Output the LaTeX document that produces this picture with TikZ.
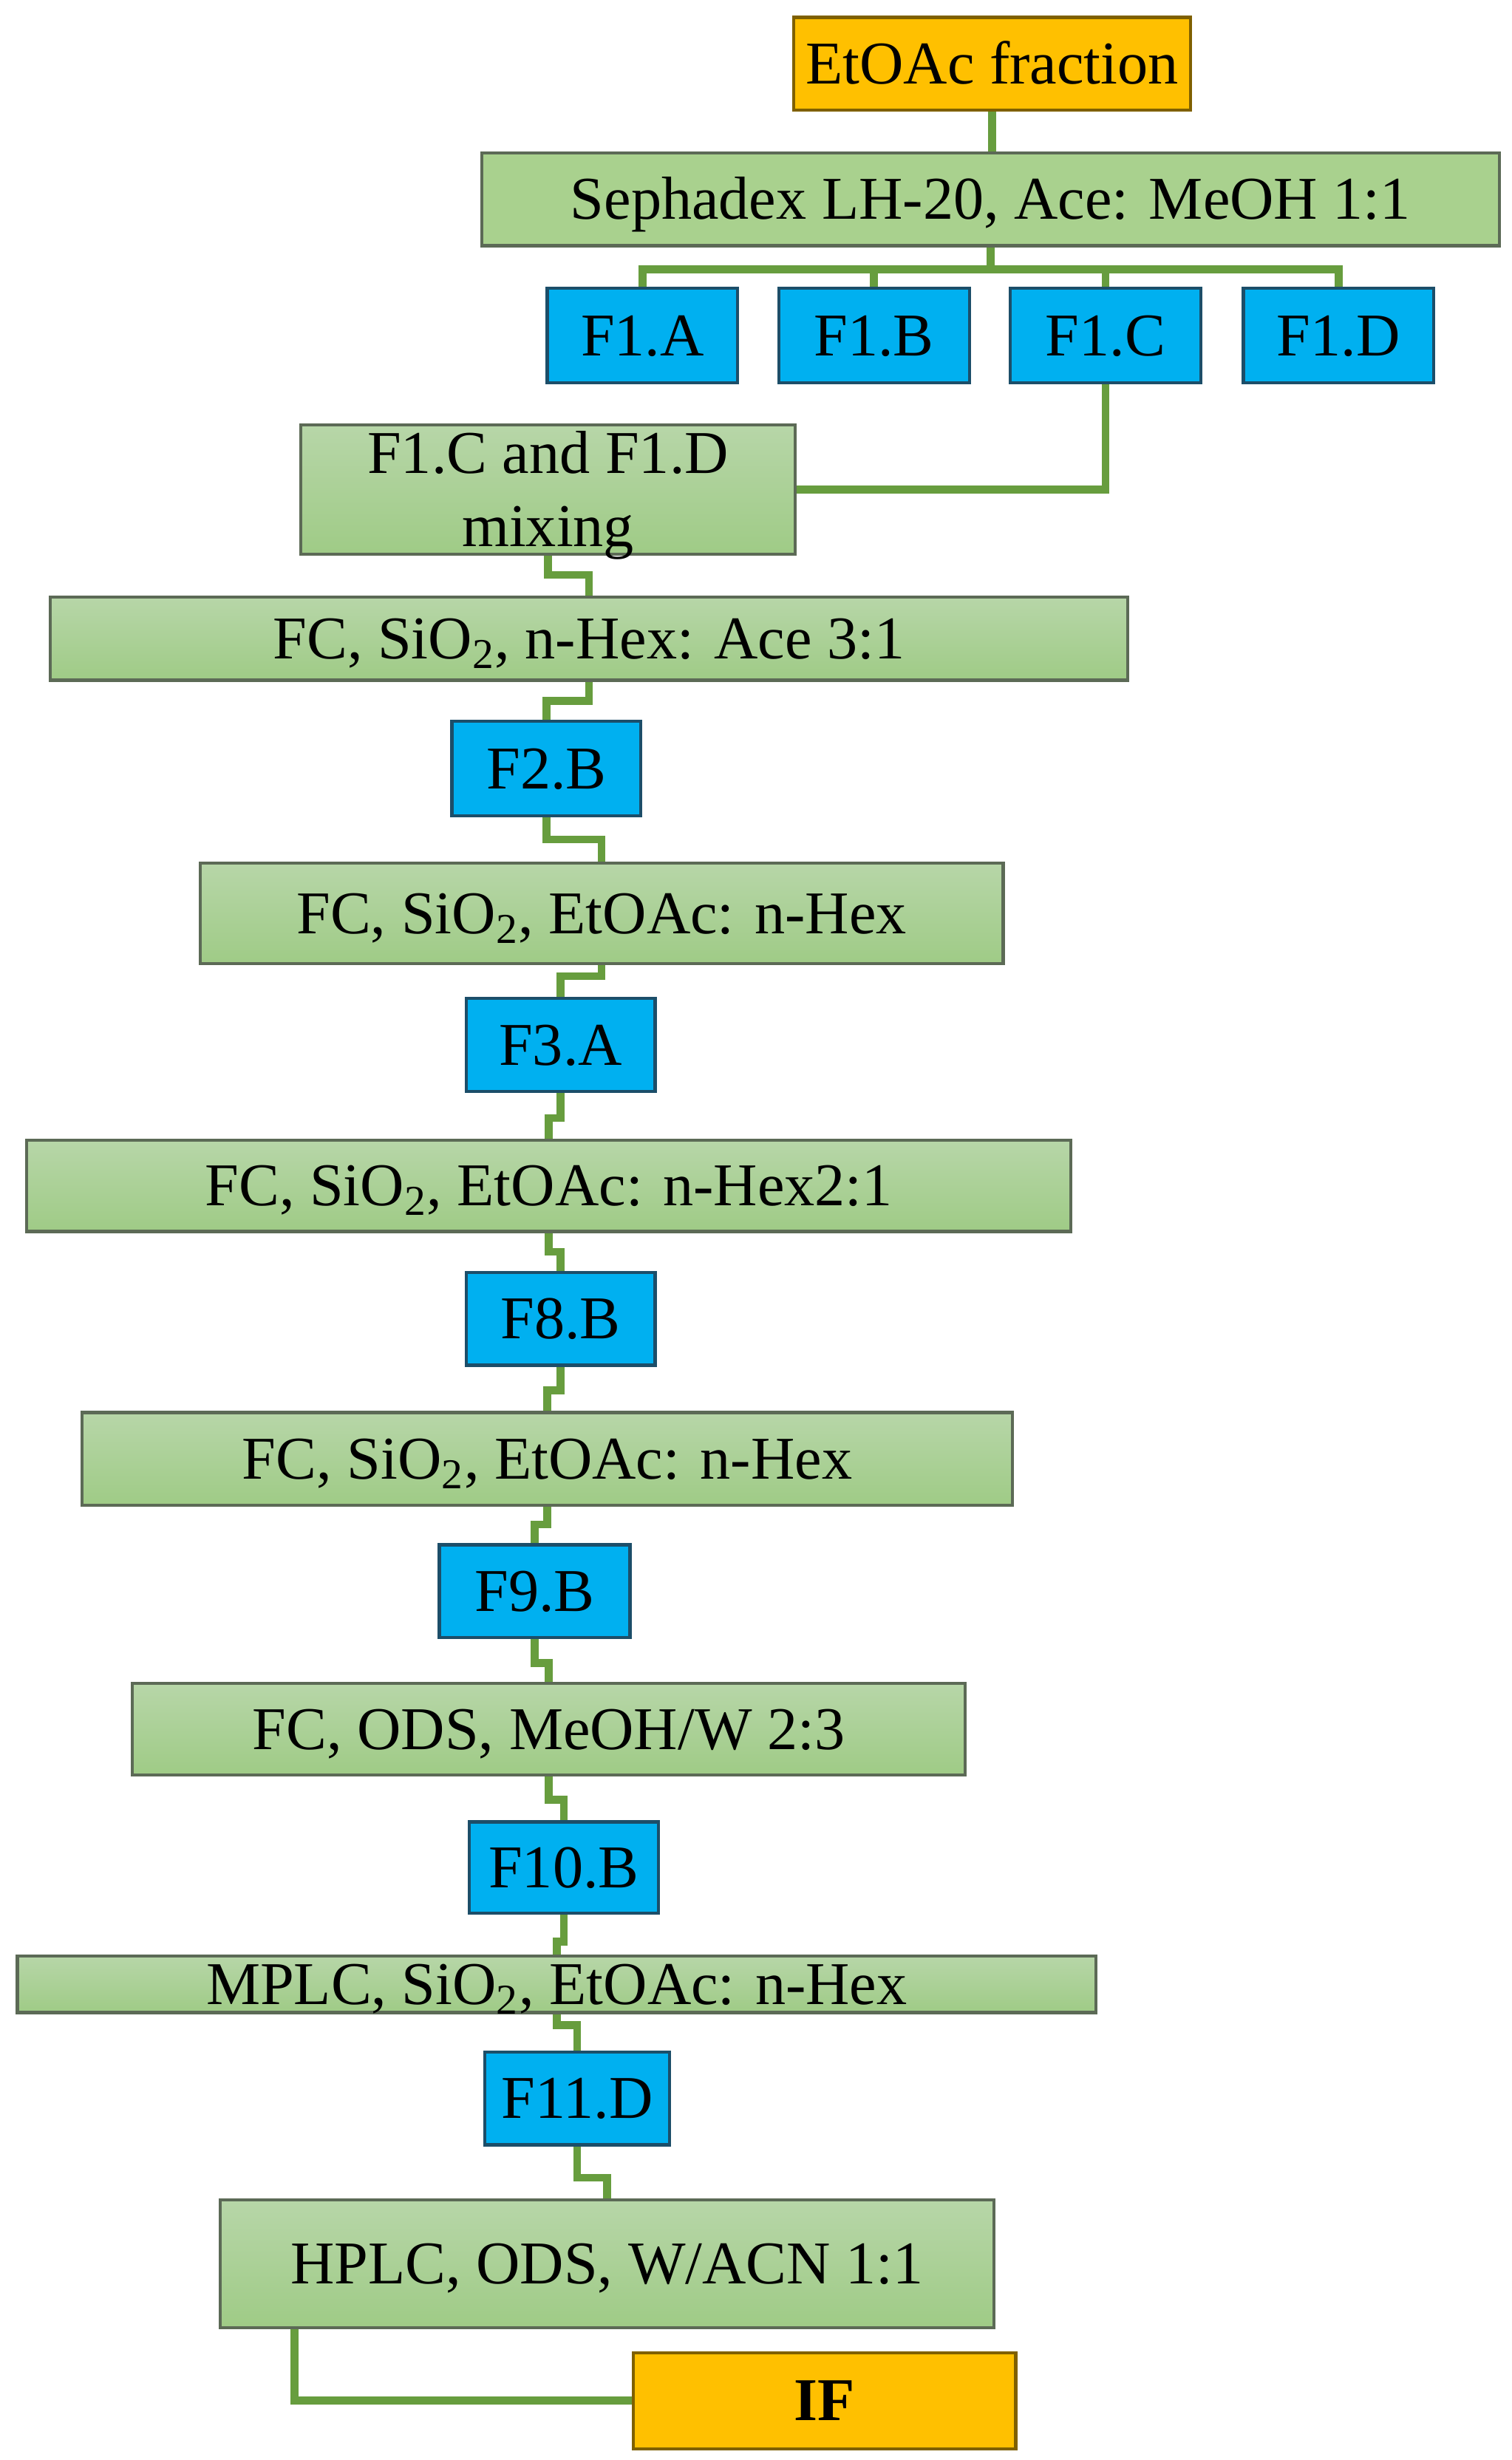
\documentclass[tikz,border=0pt]{standalone}
\usepackage{fontspec}
\setmainfont{Liberation Serif}
\usetikzlibrary{calc}
\definecolor{lineg}{RGB}{103,157,62}
\definecolor{gtop}{RGB}{183,214,168}
\definecolor{gbot}{RGB}{159,203,134}
\definecolor{gflat}{RGB}{169,209,142}
\definecolor{gbord}{RGB}{92,106,86}
\definecolor{bfill}{RGB}{0,176,240}
\definecolor{bbord}{RGB}{28,78,105}
\definecolor{ofill}{RGB}{255,192,0}
\definecolor{obord}{RGB}{127,96,0}
\begin{document}
\begin{tikzpicture}[x=0.02131cm, y=-0.02131cm,
  box/.style 2 args={rectangle, inner sep=0pt, minimum width={#1*0.02131cm},
    minimum height={#2*0.02131cm}, line width=1.2pt,
    font=\fontsize{23.4}{28}\selectfont, text height=15.5pt, text depth=0pt, align=center},
  gbox/.style={draw=gbord, top color=gtop, bottom color=gbot},
  bbox/.style={draw=bbord, fill=bfill},
  obox/.style={draw=obord, fill=ofill},
  conn/.style={draw=lineg, line width=3pt}]
\useasboundingbox (0,0) rectangle (960.1,1562.2);

\node[box={252}{59}, obox] (etoac) at (630,40.5) {EtOAc fraction};
\node[box={646}{59}, draw=gbord, fill=gflat] (seph) at (629,126.5) {Sephadex LH-20, Ace: MeOH 1:1};
\node[box={121}{60}, bbox] (f1a) at (408,213) {F1.A};
\node[box={121}{60}, bbox] (f1b) at (555,213) {F1.B};
\node[box={121}{60}, bbox] (f1c) at (702,213) {F1.C};
\node[box={121}{60}, bbox] (f1d) at (850,213) {F1.D};
\node[box={314}{82}, gbox, text height=43.6pt, text depth=0pt] (mix) at (348,311) {F1.C and F1.D\\mixing};
\node[box={684}{53}, gbox] (fc1) at (374,405.5) {FC, SiO\textsubscript{2}, n-Hex: Ace 3:1};
\node[box={120}{60}, bbox] (f2b) at (347,488) {F2.B};
\node[box={510}{64}, gbox] (fc2) at (382,580) {FC, SiO\textsubscript{2}, EtOAc: n-Hex};
\node[box={120}{59}, bbox] (f3a) at (356,663.5) {F3.A};
\node[box={663}{58}, gbox] (fc3) at (348.5,753) {FC, SiO\textsubscript{2}, EtOAc: n-Hex2:1};
\node[box={120}{59}, bbox] (f8b) at (356,837.5) {F8.B};
\node[box={591}{59}, gbox] (fc4) at (347.5,926.5) {FC, SiO\textsubscript{2}, EtOAc: n-Hex};
\node[box={121}{59}, bbox] (f9b) at (339.5,1010.5) {F9.B};
\node[box={529}{58}, gbox] (fc5) at (348.5,1098) {FC, ODS, MeOH/W 2:3};
\node[box={120}{58}, bbox] (f10b) at (358,1186) {F10.B};
\node[box={685}{36}, gbox] (mplc) at (353.5,1260) {MPLC, SiO\textsubscript{2}, EtOAc: n-Hex};
\node[box={117}{59}, bbox] (f11d) at (366.5,1332.5) {F11.D};
\node[box={491}{81}, gbox] (hplc) at (385.5,1437.5) {HPLC, ODS, W/ACN 1:1};
\node[box={243}{61}, obox] (iff) at (523.5,1524.5) {\textbf{IF}};

\draw[conn] (etoac.south) -- (etoac.south |- seph.north);
\foreach \n in {f1a,f1b,f1c,f1d} \draw[conn] (seph.south) -- ++(0,14) -| (\n.north);
\draw[conn] (f1c.south) |- (mix.east);
\draw[conn] (mix.south) -- ++(0,12) -| (fc1.north);
\draw[conn] (fc1.south) -- ++(0,12) -| (f2b.north);
\draw[conn] (f2b.south) -- ++(0,14) -| (fc2.north);
\draw[conn] (fc2.south) -- ++(0,7) -| (f3a.north);
\draw[conn] (f3a.south) -- ++(0,16) -| (fc3.north);
\draw[conn] (fc3.south) -- ++(0,12) -| (f8b.north);
\draw[conn] (f8b.south) -- ++(0,15) -| (fc4.north);
\draw[conn] (fc4.south) -- ++(0,11) -| (f9b.north);
\draw[conn] (f9b.south) -- ++(0,15) -| (fc5.north);
\draw[conn] (fc5.south) -- ++(0,15) -| (f10b.north);
\draw[conn] (f10b.south) -- ++(0,17) -| (mplc.north);
\draw[conn] (mplc.south) -- ++(0,7) -| (f11d.north);
\draw[conn] (f11d.south) -- ++(0,20) -| (hplc.north);
\draw[conn] ($(hplc.south west)+(48,0)$) |- (iff.west);
\end{tikzpicture}
\end{document}
